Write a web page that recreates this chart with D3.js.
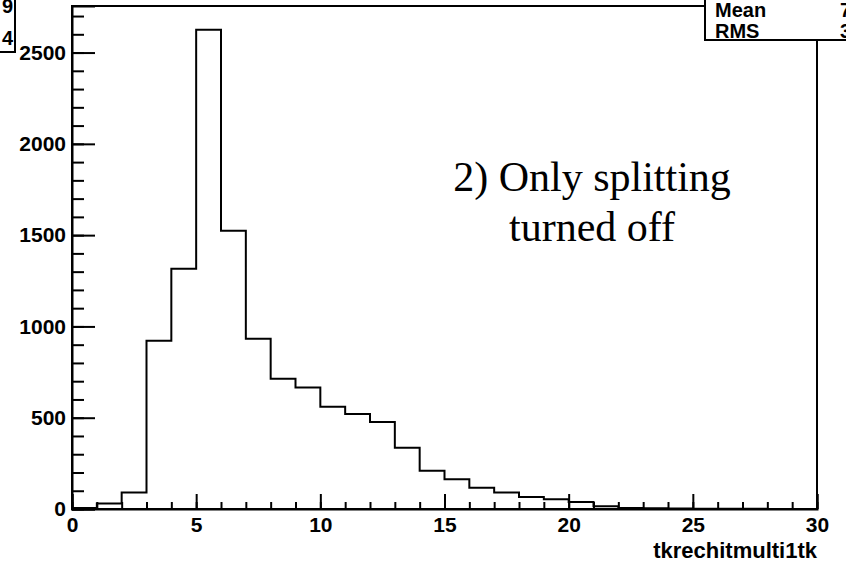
<!DOCTYPE html>
<html><head><meta charset="utf-8">
<script src="https://cdn.jsdelivr.net/npm/d3@7"></script>
<style>
html,body{margin:0;padding:0;background:#fff;overflow:hidden}
svg{display:block}
</style></head>
<body>
<script>
// data: bin lower edges (width 1) and counts
const binEdges = [0,1,2,3,4,5,6,7,8,9,10,11,12,13,14,15,16,17,18,19,20,21,22,23,24,25,26,27,28,29,30];
const counts = [5,30,90,922,1316,2625,1524,932,714,666,560,520,476,336,210,163,117,91,66,53,38,15,5,4,3,2,1,1,0,0];
const xTicks = [0,5,10,15,20,25,30];
const yTicks = [0,500,1000,1500,2000,2500];
const xTitle = "tkrechitmulti1tk";
const noteLines = ["2) Only splitting","turned off"];
const statNames = ["Mean","RMS"];
const statValues = ["7.313","3.428"];
const leftBoxValues = ["9","4"];

const W = 846, H = 566;
const svg = d3.select("body").append("svg").attr("width",W).attr("height",H);

const x = d3.scaleLinear().domain([0,30]).range([72,817]);
const y = d3.scaleLinear().domain([0,2755]).range([509,6]);

const font = "'Liberation Sans', Arial, sans-serif";

// histogram outline
const pts = [[x(0), y(0)]];
counts.forEach((c,i)=>{ pts.push([x(binEdges[i]), y(c)]); pts.push([x(binEdges[i+1]), y(c)]); });
pts.push([x(30), y(0)]);
svg.append("path").attr("d", d3.line()(pts)).attr("fill","none").attr("stroke","#000").attr("stroke-width",2);

// frame
svg.append("rect").attr("x",x(0)).attr("y",y(2755)).attr("width",x(30)-x(0)).attr("height",y(0)-y(2755))
  .attr("fill","none").attr("stroke","#000").attr("stroke-width",2);

// y axis
const yMinor = d3.range(0,2800,100);
svg.append("g").attr("transform",`translate(${x(0)},0)`)
  .call(d3.axisLeft(y).tickValues(yMinor).tickSize(-12).tickFormat(""))
  .call(g=>{g.select(".domain").remove(); g.selectAll("line").attr("stroke-width",2);});
const ya = svg.append("g").attr("transform",`translate(${x(0)},0)`)
  .call(d3.axisLeft(y).tickValues(yTicks).tickSize(-23).tickPadding(6).tickFormat(d3.format("d")));
ya.select(".domain").attr("stroke-width",2);
ya.selectAll("line").attr("stroke-width",2);
ya.selectAll("text").attr("font-family",font).attr("font-weight","bold").attr("font-size",21).attr("fill","#000");

// x axis
const xMinor = d3.range(0,31,1);
svg.append("g").attr("transform",`translate(0,${y(0)})`)
  .call(d3.axisBottom(x).tickValues(xMinor).tickSize(-7).tickFormat(""))
  .call(g=>{g.select(".domain").remove(); g.selectAll("line").attr("stroke-width",2);});
const xa = svg.append("g").attr("transform",`translate(0,${y(0)})`)
  .call(d3.axisBottom(x).tickValues(xTicks).tickSize(-15).tickPadding(8).tickFormat(d3.format("d")));
xa.select(".domain").attr("stroke-width",2);
xa.selectAll("line").attr("stroke-width",2);
xa.selectAll("text").attr("font-family",font).attr("font-weight","bold").attr("font-size",21).attr("fill","#000");

// x title
svg.append("text").attr("x",x(30)).attr("y",558).attr("text-anchor","end")
  .attr("font-family",font).attr("font-weight","bold").attr("font-size",22).text(xTitle);

// annotation
noteLines.forEach((t,i)=>{
  svg.append("text").attr("x",592).attr("y",191+i*50).attr("text-anchor","middle")
    .attr("font-family","'Liberation Serif','Times New Roman',serif").attr("font-size",42).text(t);
});

// top-right stats box
svg.append("rect").attr("x",705).attr("y",-5).attr("width",150).attr("height",45)
  .attr("fill","#fff").attr("stroke","#000").attr("stroke-width",2);
statNames.forEach((t,i)=>{
  svg.append("text").attr("x",715).attr("y",17+i*21).attr("font-family",font).attr("font-weight","bold")
    .attr("font-size",20).text(t);
  svg.append("text").attr("x",840).attr("y",17+i*21).attr("font-family",font).attr("font-weight","bold")
    .attr("font-size",20).text(statValues[i]);
});

// top-left clipped stats box
svg.append("rect").attr("x",-10).attr("y",-5).attr("width",25).attr("height",57)
  .attr("fill","#fff").attr("stroke","#000").attr("stroke-width",2);
leftBoxValues.forEach((t,i)=>{
  svg.append("text").attr("x",13).attr("y",13+i*32).attr("text-anchor","end").attr("font-family",font)
    .attr("font-weight","bold").attr("font-size",20).text(t);
});
</script>
</body></html>
